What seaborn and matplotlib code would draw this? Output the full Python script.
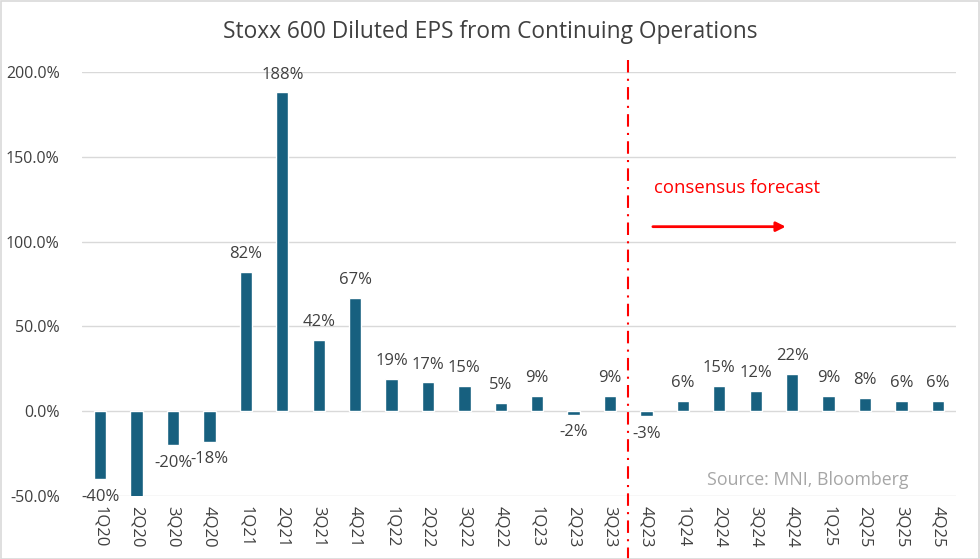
import matplotlib
matplotlib.use("Agg")
import matplotlib.pyplot as plt
import seaborn as sns
import pandas as pd
from matplotlib.patches import Rectangle

quarters = ["1Q20", "2Q20", "3Q20", "4Q20", "1Q21", "2Q21", "3Q21", "4Q21",
            "1Q22", "2Q22", "3Q22", "4Q22", "1Q23", "2Q23", "3Q23", "4Q23",
            "1Q24", "2Q24", "3Q24", "4Q24", "1Q25", "2Q25", "3Q25", "4Q25"]
eps_growth = [-40, -56, -20, -18, 82, 188, 42, 67,
              19, 17, 15, 5, 9, -2, 9, -3,
              6, 15, 12, 22, 9, 8, 6, 6]
yticks = [-50, 0, 50, 100, 150, 200]

sns.set_theme(style="white")
plt.rcParams['font.family'] = ['Open Sans', 'DejaVu Sans']

df = pd.DataFrame({"q": quarters, "v": eps_growth})

fig = plt.figure(figsize=(9.8, 5.59), dpi=100)
ax = fig.add_axes([82/980, 63/559, (956-82)/980, (496-72)/559])

bar_color = "#17607f"
sns.barplot(data=df, x="q", y="v", color=bar_color, width=0.34, ax=ax,
            saturation=1, zorder=3)

ax.set_ylim(-50, 200)
ax.set_xlim(-0.5, len(quarters) - 0.5)
ax.set_yticks(yticks)
ax.set_yticklabels([f"{t:.1f}%" for t in yticks], fontsize=11.5, color="#404040")
ax.tick_params(axis="y", length=0, pad=16)
ax.tick_params(axis="x", length=0, pad=7)
ax.set_xticks(range(len(quarters)))
ax.set_xticklabels(quarters, rotation=-90, fontsize=12, color="#404040")
for lab in ax.get_xticklabels():
    lab.set_va("top")
ax.set_xlabel("")
ax.set_ylabel("")
for s in ax.spines.values():
    s.set_visible(False)
for t in yticks:
    ax.axhline(t, color="#d9d9d9", lw=1, zorder=1)

for i, v in enumerate(eps_growth):
    if v < -50:
        continue
    if v >= 0:
        ax.annotate(f"{v}%", (i, v), xytext=(0, 7), textcoords="offset points",
                    ha="center", va="bottom", fontsize=12, color="#404040")
    else:
        ax.annotate(f"{v}%", (i, v), xytext=(0, -7), textcoords="offset points",
                    ha="center", va="top", fontsize=12, color="#404040")

# forecast divider
ax.plot([14.5, 14.5], [-88, 207], color="red", lw=1.5, ls=(0, (6, 3, 1, 3)),
        clip_on=False, zorder=4)
ax.annotate("", xy=(18.9, 108.8), xytext=(15.1, 108.8),
            arrowprops=dict(arrowstyle="-|>", color="red", lw=2, mutation_scale=14))
ax.text(15.2, 131.8, "consensus forecast", color="red", fontsize=13.3,
        ha="left", va="center")
ax.text(22.2, -40.5, "Source: MNI, Bloomberg", color="#a6a6a6", fontsize=12.8,
        ha="right", va="center")

fig.text(0.5, 1 - 32/559, "Stoxx 600 Diluted EPS from Continuing Operations",
         ha="center", va="center", fontsize=16.4, color="#404040")

fig.patches.append(Rectangle((0.5/980, 0.5/559), 1 - 1.5/980, 1 - 1.5/559,
                             transform=fig.transFigure, fill=False,
                             edgecolor="#d9d9d9", lw=1.2))

fig.savefig("out.png", dpi=100)
